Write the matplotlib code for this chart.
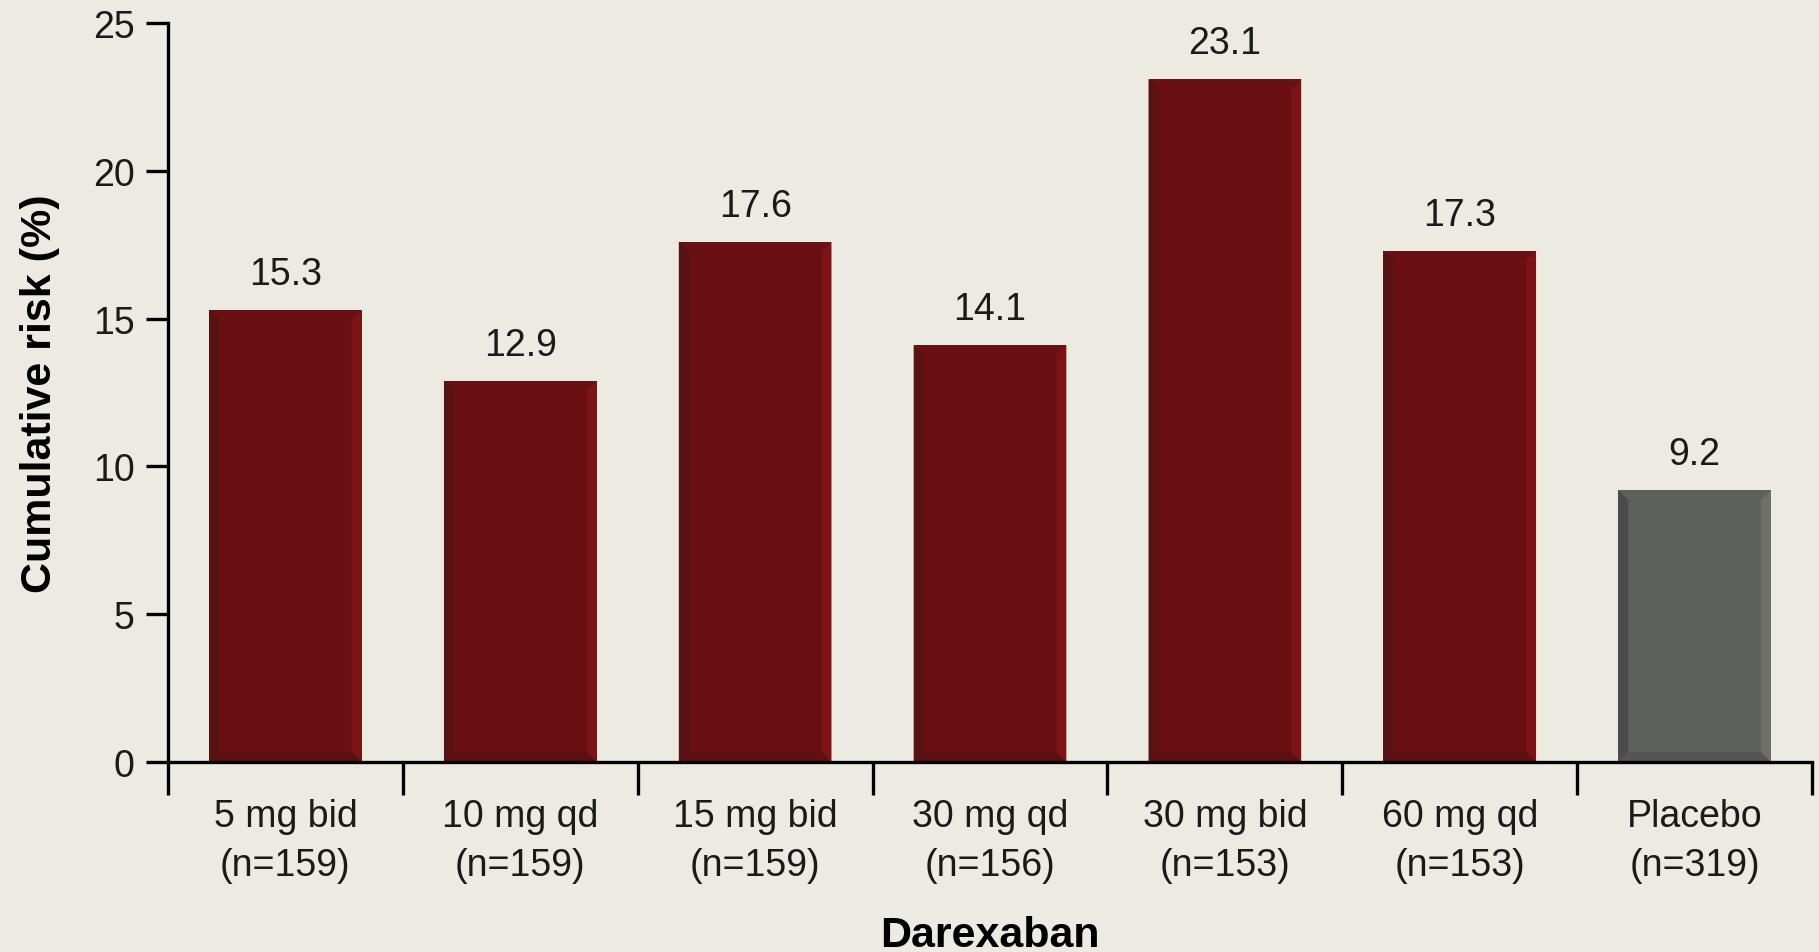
import numpy as np
import matplotlib
matplotlib.use("Agg")
import matplotlib.pyplot as plt
from matplotlib.patches import Polygon

doses = ["5 mg bid", "10 mg qd", "15 mg bid", "30 mg qd", "30 mg bid", "60 mg qd", "Placebo"]
n_pts = [159, 159, 159, 156, 153, 153, 319]
risk = [15.3, 12.9, 17.6, 14.1, 23.1, 17.3, 9.2]

bg = "#edebe1"
red = ("#6b1012", "#561314", "#7c1416", "#5c1012")   # face, left, right, bottom
grey = ("#5e605e", "#4a4b4a", "#6e6e6b", "#545554")

plt.rcParams['font.family'] = ['Liberation Sans', 'DejaVu Sans']

fig = plt.figure(figsize=(18.19, 9.53), dpi=100, facecolor=bg)
ax = fig.add_axes([168 / 1819, 1 - 763 / 953, (1812 - 168) / 1819, (763 - 24) / 953])
ax.set_facecolor(bg)

x = np.arange(len(doses))
w = 0.65
ax.set_xlim(-0.5, len(doses) - 0.5)
ax.set_ylim(0, 25)

# bevel size in data units (about 10 px)
bx = 10 / 235 * 1.0
by = 10 / 739 * 25

for i, v in enumerate(risk):
    face, left, right, bottom = grey if doses[i] == "Placebo" else red
    x0, x1 = i - w / 2, i + w / 2
    ax.bar(i, v, width=w, color=face, zorder=2)
    ax.add_patch(Polygon([(x0, 0), (x0 + bx, by), (x0 + bx, v - by), (x0, v)],
                         closed=True, color=left, lw=0, zorder=3))
    ax.add_patch(Polygon([(x1, 0), (x1 - bx, by), (x1 - bx, v - by), (x1, v)],
                         closed=True, color=right, lw=0, zorder=3))
    ax.add_patch(Polygon([(x0, 0), (x0 + bx, by), (x1 - bx, by), (x1, 0)],
                         closed=True, color=bottom, lw=0, zorder=3))
    ax.annotate(f"{v:.1f}", (i, v), xytext=(0, 13), textcoords="offset points",
                ha="center", va="bottom", fontsize=27, color="#1a1a1a")

for s in ["top", "right"]:
    ax.spines[s].set_visible(False)
for s in ["left", "bottom"]:
    ax.spines[s].set_linewidth(2.4)
ax.spines["bottom"].set_zorder(4)

ax.set_yticks([0, 5, 10, 15, 20, 25])
ax.tick_params(axis="y", length=16, width=2.4, labelsize=27, pad=8, labelcolor="#1a1a1a")

# boundary ticks below the axis, labels at bar centres
ax.set_xticks(np.arange(len(doses) + 1) - 0.5)
ax.set_xticklabels([])
ax.tick_params(axis="x", which="major", length=24, width=2.4, direction="out")
ax.set_xticks(x, minor=True)
ax.set_xticklabels([f"{d}\n(n={n})" for d, n in zip(doses, n_pts)], minor=True,
                   fontsize=27, linespacing=1.45, color="#1a1a1a")
ax.tick_params(axis="x", which="minor", length=0, pad=26)

ax.set_ylabel("Cumulative risk (%)", fontsize=31, fontweight="bold", labelpad=24)
ax.set_xlabel("Darexaban", fontsize=31, fontweight="bold", labelpad=23)

fig.savefig("out.png", dpi=100, facecolor=bg)
